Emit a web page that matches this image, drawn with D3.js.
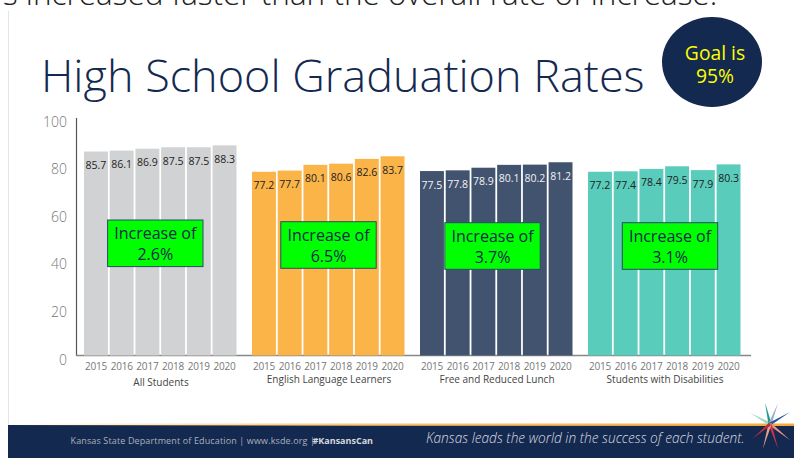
<!DOCTYPE html>
<html><head><meta charset="utf-8">
<script src="https://cdn.jsdelivr.net/npm/d3@7"></script>
<style>html,body{margin:0;padding:0;background:#fff}svg{display:block}text{font-family:"Open Sans",sans-serif}</style>
</head><body><svg id="c" width="794" height="458"></svg>
<script>
const years=["2015","2016","2017","2018","2019","2020"];
const groups=["All Students","English Language Learners","Free and Reduced Lunch","Students with Disabilities"];
const allStudents=[85.7,86.1,86.9,87.5,87.5,88.3];
const ell=[77.2,77.7,80.1,80.6,82.6,83.7];
const frl=[77.5,77.8,78.9,80.1,80.2,81.2];
const swd=[77.2,77.4,78.4,79.5,77.9,80.3];
const seriesValues=[allStudents,ell,frl,swd];
const barColors=["#d1d2d4","#fbb448","#425370","#5accbc"];
const labelColors=["#222","#222","#f2f2f2","#222"];
const increases=["2.6%","6.5%","3.7%","3.1%"];
const yTicks=[0,20,40,60,80,100];
const navy="#14294f";
const boxCenters=[155.3,328.5,492.5,670];
const boxTops=[220,221.7,222.7,222.7];

const svg=d3.select("#c");
const y=d3.scaleLinear().domain([0,100]).range([355.5,117.5]);
const gx=d3.scaleBand().domain(groups).range([76,748]);
const bx=d3.scaleBand().domain(years).range([8,160.5]).paddingInner(0.07);

const lg=svg.append("defs").append("linearGradient").attr("id","fade");
lg.append("stop").attr("offset","0").attr("stop-color","#fbb448").attr("stop-opacity",0);
lg.append("stop").attr("offset","0.45").attr("stop-color","#f5b65a").attr("stop-opacity",0.8);
lg.append("stop").attr("offset","1").attr("stop-color","#f9a93a");

svg.append("text").attr("x",3).attr("y",5).attr("font-size",31.5).attr("fill","#222").attr("font-weight",300)
  .text("s increased faster than the overall rate of increase.");
svg.append("rect").attr("x",8).attr("y",11).attr("width",1).attr("height",414).attr("fill","#e4e4e4");
svg.append("text").attr("x",41).attr("y",92).attr("font-size",45).attr("font-weight",300).attr("fill",navy)
  .text("High School Graduation Rates");
svg.append("ellipse").attr("cx",712).attr("cy",62).attr("rx",50).attr("ry",45).attr("fill",navy);
svg.selectAll("text.goal").data(["Goal is","95%"]).join("text").attr("class","goal")
  .attr("x",715).attr("y",(d,i)=>59.5+i*23).attr("text-anchor","middle").attr("font-size",19.3).attr("fill","#ffff00").text(d=>d);

const ya=svg.append("g").attr("transform","translate(76,0)").call(d3.axisLeft(y).tickValues(yTicks).tickSize(0).tickPadding(9));
ya.select(".domain").attr("stroke","#555").attr("stroke-width",1.2);
ya.selectAll("text").attr("font-size",14).attr("fill","#777").attr("font-weight",300).attr("dy","0.62em");
svg.append("line").attr("x1",76).attr("x2",751).attr("y1",355.5).attr("y2",355.5).attr("stroke","#888").attr("stroke-width",1.5);

groups.forEach((g,gi)=>{
  const G=svg.append("g").attr("transform",`translate(${gx(g)},0)`);
  G.selectAll("rect").data(seriesValues[gi]).join("rect")
    .attr("x",(d,i)=>bx(years[i])).attr("width",bx.bandwidth())
    .attr("y",d=>y(d)).attr("height",d=>y(0)-y(d)).attr("fill",barColors[gi]);
  G.selectAll("text.v").data(seriesValues[gi]).join("text").attr("class","v")
    .attr("x",(d,i)=>bx(years[i])+bx.bandwidth()/2).attr("y",d=>y(d)+17.5)
    .attr("text-anchor","middle").attr("font-size",10.5).attr("fill",labelColors[gi]).text(d=>d.toFixed(1));
  G.selectAll("text.yr").data(years).join("text").attr("class","yr")
    .attr("x",d=>bx(d)+bx.bandwidth()/2).attr("y",369.5).attr("letter-spacing",-0.2)
    .attr("text-anchor","middle").attr("font-size",10).attr("fill","#777").text(d=>d);
  G.append("text").attr("x",85).attr("y",gi==0?385.5:383).attr("text-anchor","middle")
    .attr("font-size",10).attr("fill","#444").text(g);
  const bw=95.4,bh=46.6,cx=boxCenters[gi]-gx(g),top=boxTops[gi];
  G.append("rect").attr("x",cx-bw/2).attr("y",top).attr("width",bw).attr("height",bh)
    .attr("fill","#00ff00").attr("stroke","#2a4a68").attr("stroke-width",1);
  G.selectAll("text.b").data(["Increase of",increases[gi]]).join("text").attr("class","b")
    .attr("x",cx).attr("y",(d,i)=>top+19+i*21).attr("text-anchor","middle").attr("font-size",16).attr("fill",navy).text(d=>d);
});

svg.append("rect").attr("x",8).attr("y",425).attr("width",786).attr("height",33).attr("fill",navy);
svg.append("rect").attr("x",8).attr("y",423.5).attr("width",786).attr("height",2.5).attr("fill","url(#fade)");
svg.append("text").attr("x",70.5).attr("y",444).attr("font-size",9).attr("fill","#a9b0bd").attr("letter-spacing",0.13)
  .text("Kansas State Department of Education | www.ksde.org |");
svg.append("text").attr("x",312.5).attr("y",444).attr("font-size",9).attr("font-weight",700).attr("fill","#d5d8de").text("#KansansCan");
svg.append("text").attr("x",426).attr("y",443).attr("font-size",13.7).attr("font-style","italic").attr("font-weight",300).attr("fill","#d8dbe0")
  .text("Kansas leads the world in the success of each student.");

const rayAngles=[-151,-103,-69,-31,39,72,106,140];
const rayLengths=[23,22,22,23,26,26,26,23];
const rayColors=["#9fd6cc","#1f9b8c","#9aaccb","#1f5a92","#e6907f","#d0314f","#e9a08a","#b8303a"];
const star=svg.append("g").attr("transform","translate(770,424)");
star.selectAll("path").data(rayAngles).join("path")
  .attr("d",(d,i)=>{const a=d*Math.PI/180,l=rayLengths[i],n=a+Math.PI/2,w=1.6;
    return `M${w*Math.cos(n)},${w*Math.sin(n)}L${l*Math.cos(a)},${l*Math.sin(a)}L${-w*Math.cos(n)},${-w*Math.sin(n)}Z`;})
  .attr("fill",(d,i)=>rayColors[i]);
</script></body></html>
